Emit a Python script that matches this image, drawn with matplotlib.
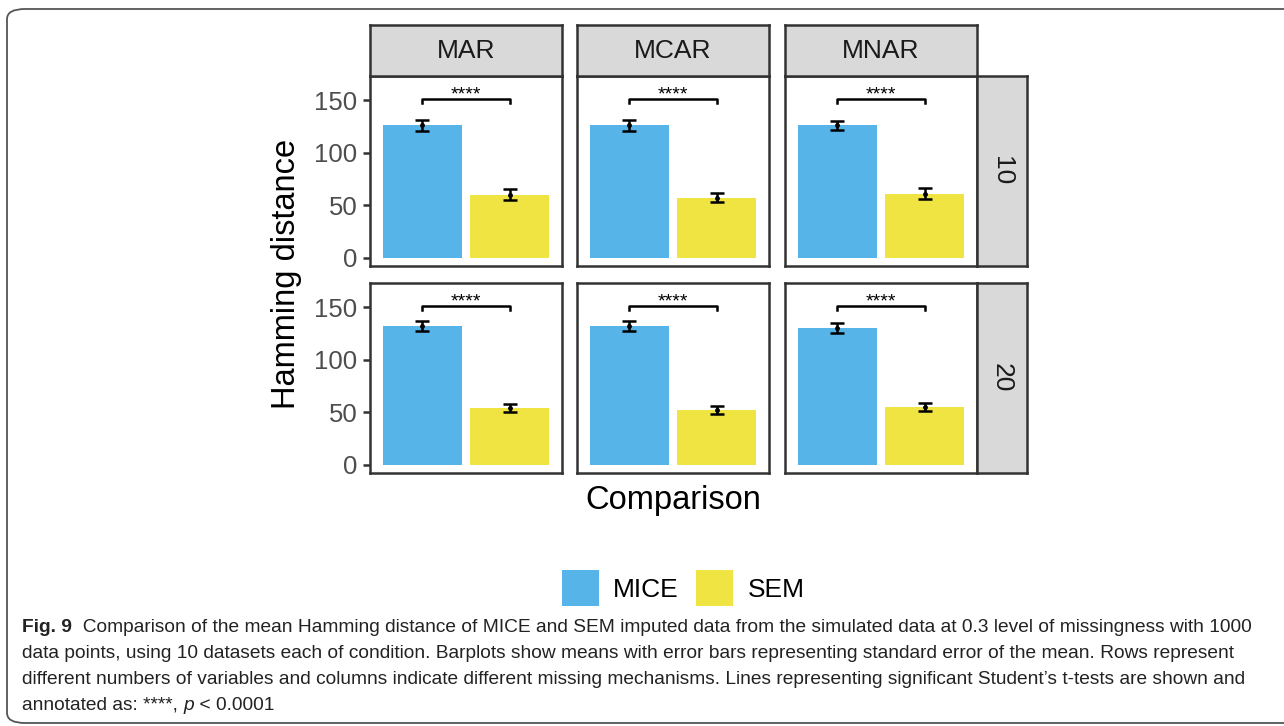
import matplotlib.pyplot as plt
from matplotlib.patches import Patch, FancyBboxPatch

plt.rcParams['font.family'] = ['Liberation Sans', 'DejaVu Sans']

mechanisms = ["MAR", "MCAR", "MNAR"]
n_vars = ["10", "20"]
methods = ["MICE", "SEM"]
colors = ["#56B4E9", "#F0E442"]

# means [row][col] -> (MICE, SEM)
means = [
    [(126, 60), (126, 57), (126, 61)],
    [(132, 54), (132, 52), (130, 55)],
]
sems = [
    [(5.5, 5.0), (5.0, 4.5), (4.5, 5.0)],
    [(4.5, 4.0), (5.0, 3.5), (4.5, 4.0)],
]
bracket_y = 151
y_ticks = [0, 50, 100, 150]

W, H = 1284, 726
fig = plt.figure(figsize=(W / 100, H / 100), dpi=100)


def px(x0, y0, x1, y1):
    # pixel box (top-left origin) -> figure fraction rect
    return [x0 / W, 1 - y1 / H, (x1 - x0) / W, (y1 - y0) / H]


# outer rounded frame
frame = FancyBboxPatch((7 / W, 1 - 723 / H), 1400 / W, 714 / H,
                       boxstyle="round,pad=0,rounding_size=0.014",
                       transform=fig.transFigure, fill=False,
                       edgecolor="#555555", linewidth=1.3)
fig.patches.append(frame)

col_x = [(370, 562), (577, 769), (785, 977)]
row_y = [(76, 266), (283, 473)]
edge = "#333333"

for r in range(2):
    for c in range(3):
        ax = fig.add_axes(px(col_x[c][0], row_y[r][0], col_x[c][1], row_y[r][1]))
        xs = [1, 2]
        ax.bar(xs, means[r][c], width=0.9, color=colors)
        ax.errorbar(xs, means[r][c], yerr=sems[r][c], fmt='o', color='black',
                    markersize=2.5, capsize=5, elinewidth=1.8, capthick=1.8)
        ax.plot([1, 1, 2, 2], [bracket_y - 4, bracket_y, bracket_y, bracket_y - 4],
                color='black', linewidth=1.8)
        ax.text(1.5, bracket_y - 4.5, "****", ha='center', va='bottom', fontsize=14)
        ax.set_xlim(0.4, 2.6)
        ax.set_ylim(-8, 173)
        ax.set_xticks([])
        ax.set_yticks(y_ticks)
        for s in ax.spines.values():
            s.set_color(edge)
            s.set_linewidth(1.8)
        if c == 0:
            ax.tick_params(axis='y', length=5, width=1.8, color=edge,
                           labelsize=18.5, labelcolor="#4d4d4d", pad=4)
        else:
            ax.tick_params(axis='y', length=0, labelleft=False)

# column strips
for c in range(3):
    sax = fig.add_axes(px(col_x[c][0], 25, col_x[c][1], 76))
    sax.set_facecolor("#d9d9d9")
    sax.set_xticks([])
    sax.set_yticks([])
    for s in sax.spines.values():
        s.set_color(edge)
        s.set_linewidth(1.8)
    sax.text(0.5, 0.5, mechanisms[c], ha='center', va='center',
             fontsize=19, color="#1a1a1a", transform=sax.transAxes)

# row strips
for r in range(2):
    sax = fig.add_axes(px(977, row_y[r][0], 1027, row_y[r][1]))
    sax.set_facecolor("#d9d9d9")
    sax.set_xticks([])
    sax.set_yticks([])
    for s in sax.spines.values():
        s.set_color(edge)
        s.set_linewidth(1.8)
    sax.text(0.5, 0.5, n_vars[r], ha='center', va='center', rotation=-90,
             fontsize=19, color="#1a1a1a", transform=sax.transAxes)

fig.text(287 / W, 1 - 274 / H, "Hamming distance", rotation=90,
         ha='center', va='center', fontsize=23.5)
fig.text(673 / W, 1 - 501 / H, "Comparison", ha='center', va='center', fontsize=23.5)

handles = [Patch(facecolor=colors[i], label=methods[i]) for i in range(2)]
fig.legend(handles=handles, loc='center', bbox_to_anchor=(683 / W, 1 - 588 / H),
           ncol=2, frameon=False, fontsize=19, handlelength=1.4, handleheight=1.75,
           columnspacing=0.65, handletextpad=0.55)

# caption
cap_font = ['Liberation Sans Narrow', 'Liberation Sans', 'DejaVu Sans']
cap_size = 13.75
cap_lines = [
    "data points, using 10 datasets each of condition. Barplots show means with error bars representing standard error of the mean. Rows represent",
    "different numbers of variables and columns indicate different missing mechanisms. Lines representing significant Student\u2019s t-tests are shown and",
]
fig.canvas.draw()
renderer = fig.canvas.get_renderer()


def run_text(x_px, y_px, pieces):
    x = x_px
    for txt, weight, style in pieces:
        t = fig.text(x / W, 1 - y_px / H, txt, ha='left', va='baseline',
                     fontsize=cap_size, family=cap_font, weight=weight,
                     style=style, color="#222222")
        bb = t.get_window_extent(renderer=renderer)
        x += bb.width


run_text(22, 632, [("Fig. 9", 'bold', 'normal'),
                   ("  Comparison of the mean Hamming distance of MICE and SEM imputed data from the simulated data at 0.3 level of missingness with 1000",
                    'normal', 'normal')])
run_text(22, 658, [(cap_lines[0], 'normal', 'normal')])
run_text(22, 684, [(cap_lines[1], 'normal', 'normal')])
run_text(22, 710, [("annotated as: ****, ", 'normal', 'normal'),
                   ("p", 'normal', 'italic'),
                   (" < 0.0001", 'normal', 'normal')])

fig.savefig("out.png", dpi=100)
